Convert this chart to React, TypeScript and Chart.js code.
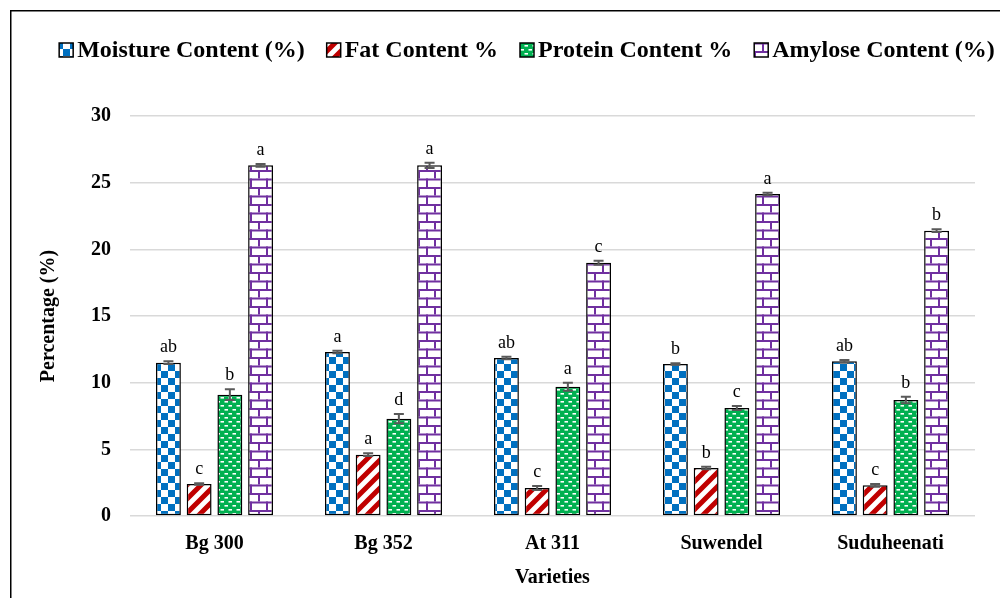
import React, { useEffect, useRef } from "react";
import { Chart, registerables } from "chart.js";

Chart.register(...registerables);

const categories = ["Bg 300", "Bg 352", "At 311", "Suwendel", "Suduheenati"];
const seriesNames = ["Moisture Content (%)", "Fat Content %", "Protein Content %", "Amylose Content (%)"];

const moisture = [11.5, 12.3, 11.85, 11.4, 11.6];
const fat = [2.4, 4.6, 2.1, 3.6, 2.3];
const protein = [9.1, 7.3, 9.7, 8.1, 8.7];
const amylose = [26.3, 26.3, 19.0, 24.15, 21.4];

const moistureErr = [0.1, 0.1, 0.1, 0.05, 0.1];
const fatErr = [0.05, 0.1, 0.15, 0.1, 0.1];
const proteinErr = [0.4, 0.35, 0.3, 0.15, 0.25];
const amyloseErr = [0.1, 0.2, 0.15, 0.1, 0.1];

const moistureLetters = ["ab", "a", "ab", "b", "ab"];
const fatLetters = ["c", "a", "c", "b", "c"];
const proteinLetters = ["b", "d", "a", "c", "b"];
const amyloseLetters = ["a", "a", "c", "a", "b"];

const yMax = 30;
const yStep = 5;

const SERIF = "'Liberation Serif', 'Times New Roman', serif";

function makeTile(w: number, h: number, draw: (c: CanvasRenderingContext2D) => void) {
  const cv = document.createElement("canvas");
  cv.width = w;
  cv.height = h;
  const c = cv.getContext("2d")!;
  draw(c);
  return cv;
}

function makePatterns(ctx: CanvasRenderingContext2D) {
  const checker = makeTile(14, 14, (c) => {
    c.fillStyle = "#ffffff";
    c.fillRect(0, 0, 14, 14);
    c.fillStyle = "#0070C0";
    c.fillRect(0, 0, 7, 7);
    c.fillRect(7, 7, 7, 7);
  });
  const S = 14;
  const stripes = makeTile(S, S, (c) => {
    c.fillStyle = "#ffffff";
    c.fillRect(0, 0, S, S);
    c.strokeStyle = "#C00000";
    c.lineWidth = 5;
    c.lineCap = "square";
    c.beginPath();
    c.moveTo(-3, 3);
    c.lineTo(3, -3);
    c.moveTo(-1, S + 1);
    c.lineTo(S + 1, -1);
    c.moveTo(S - 3, S + 3);
    c.lineTo(S + 3, S - 3);
    c.stroke();
  });
  const dashes = makeTile(8, 8, (c) => {
    c.fillStyle = "#00B050";
    c.fillRect(0, 0, 8, 8);
    c.fillStyle = "#ffffff";
    c.fillRect(0.5, 1, 3.5, 1.6);
    c.fillRect(4.5, 5, 3.5, 1.6);
  });
  const bricks = makeTile(16, 17, (c) => {
    c.fillStyle = "#ffffff";
    c.fillRect(0, 0, 16, 17);
    c.fillStyle = "#7030A0";
    c.fillRect(0, 0, 16, 2);
    c.fillRect(0, 8.5, 16, 2);
    c.fillRect(2, 0, 2, 8.5);
    c.fillRect(10, 8.5, 2, 8.5);
  });
  return [checker, stripes, dashes, bricks].map((t) => ctx.createPattern(t, "repeat")!);
}

export default function App() {
  const ref = useRef<HTMLCanvasElement | null>(null);

  useEffect(() => {
    const canvas = ref.current!;
    const ctx = canvas.getContext("2d")!;
    const patterns = makePatterns(ctx);
    const values = [moisture, fat, protein, amylose];
    const errs = [moistureErr, fatErr, proteinErr, amyloseErr];
    const letters = [moistureLetters, fatLetters, proteinLetters, amyloseLetters];

    const bgPlugin = {
      id: "bg",
      beforeDraw(chart: any) {
        const c = chart.ctx;
        c.save();
        c.fillStyle = "#ffffff";
        c.fillRect(0, 0, chart.width, chart.height);
        c.restore();
      },
      afterDraw(chart: any) {
        const c = chart.ctx;
        c.save();
        c.fillStyle = "#000000";
        c.fillRect(10, 10, 1.5, chart.height);
        c.fillRect(10, 10, chart.width, 1.5);
        // legend
        c.font = `bold 24px ${SERIF}`;
        c.textBaseline = "middle";
        c.textAlign = "left";
        const box = 14;
        const gapText = 4;
        const gapItem = 22;
        const widths = seriesNames.map((s) => c.measureText(s).width);
        const total = widths.reduce((a, b) => a + b, 0) + seriesNames.length * (box + gapText) + gapItem * (seriesNames.length - 1);
        let x = 527 - total / 2;
        const ly = 50;
        seriesNames.forEach((s, i) => {
          c.fillStyle = patterns[i];
          c.fillRect(x, ly - box / 2, box, box);
          c.strokeStyle = "#000000";
          c.lineWidth = 1.5;
          c.strokeRect(x, ly - box / 2, box, box);
          c.fillStyle = "#000000";
          c.fillText(s, x + box + gapText, ly + 1);
          x += box + gapText + widths[i] + gapItem;
        });
        c.restore();
      },
    };

    const errPlugin = {
      id: "errbars",
      afterDatasetsDraw(chart: any) {
        const c = chart.ctx;
        const ys = chart.scales.y;
        c.save();
        chart.data.datasets.forEach((ds: any, i: number) => {
          const meta = chart.getDatasetMeta(i);
          meta.data.forEach((bar: any, j: number) => {
            const v = ds.data[j];
            const e = errs[i][j];
            const x = bar.x;
            const yTop = ys.getPixelForValue(v + e);
            const yBot = ys.getPixelForValue(v - e);
            c.strokeStyle = "#595959";
            c.lineWidth = 2;
            c.beginPath();
            c.moveTo(x, yTop);
            c.lineTo(x, yBot);
            c.moveTo(x - 5, yTop);
            c.lineTo(x + 5, yTop);
            c.moveTo(x - 5, yBot);
            c.lineTo(x + 5, yBot);
            c.stroke();
            c.fillStyle = "#000000";
            c.font = `18px ${SERIF}`;
            c.textAlign = "center";
            c.textBaseline = "alphabetic";
            c.fillText(letters[i][j], x, yTop - 9);
          });
        });
        c.restore();
      },
    };

    const chart = new Chart(canvas, {
      type: "bar",
      data: {
        labels: categories,
        datasets: seriesNames.map((name, i) => ({
          label: name,
          data: values[i],
          backgroundColor: patterns[i] as any,
          borderColor: "#000000",
          borderWidth: 1.5,
          borderSkipped: false,
          categoryPercentage: 0.727,
          barPercentage: 0.81,
        })),
      },
      options: {
        responsive: false,
        animation: false,
        devicePixelRatio: 1,
        layout: { padding: { top: 116, right: 25, left: 0, bottom: 0 } },
        plugins: {
          legend: { display: false },
          tooltip: { enabled: false },
        },
        scales: {
          x: {
            grid: { display: false, drawTicks: false },
            border: { display: false },
            ticks: {
              color: "#000000",
              font: { family: SERIF, size: 20, weight: "bold" },
              padding: 16,
            },
            title: {
              display: true,
              text: "Varieties",
              color: "#000000",
              font: { family: SERIF, size: 20, weight: "bold" },
              padding: { top: 0, bottom: 8 },
            },
            afterFit: (s: any) => {
              s.height = 82;
            },
          },
          y: {
            min: 0,
            max: yMax,
            grid: { color: "#D9D9D9", lineWidth: 1.5, drawTicks: false },
            border: { display: false },
            ticks: {
              stepSize: yStep,
              color: "#000000",
              font: { family: SERIF, size: 20, weight: "bold" },
              padding: 19,
            },
            title: {
              display: true,
              text: "Percentage (%)",
              color: "#000000",
              font: { family: SERIF, size: 20, weight: "bold" },
              padding: { top: 37, bottom: 0 },
            },
            afterFit: (s: any) => {
              s.width = 130;
            },
          },
        },
      },
      plugins: [bgPlugin, errPlugin],
    } as any);

    return () => chart.destroy();
  }, []);

  return (
    <div style={{ position: "fixed", left: 0, top: 0, width: 1000, height: 598, background: "#fff" }}>
      <canvas ref={ref} width={1000} height={598} style={{ display: "block", width: 1000, height: 598 }} />
    </div>
  );
}
